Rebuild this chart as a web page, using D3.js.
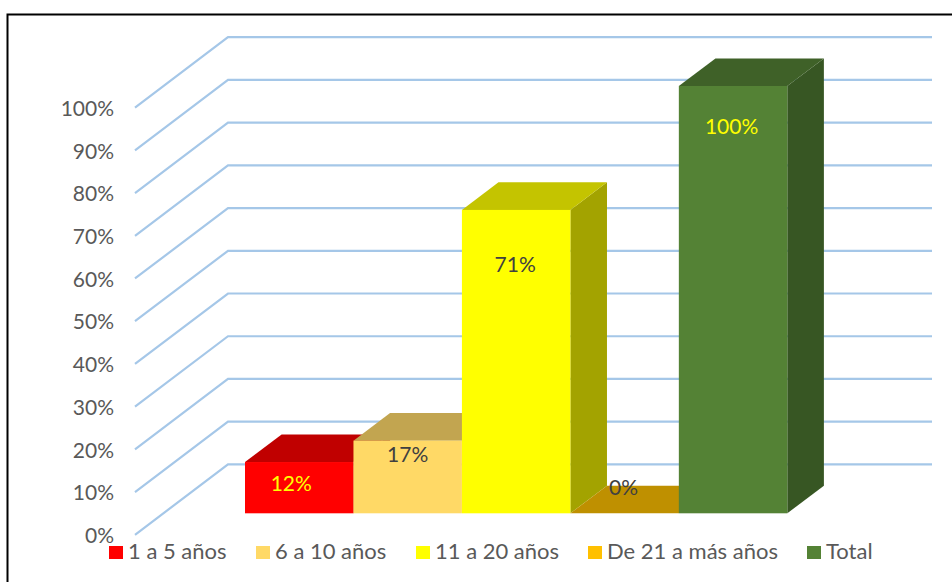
<!DOCTYPE html>
<html><head><meta charset="utf-8">
<script src="https://cdn.jsdelivr.net/npm/d3@7"></script>
<style>html,body{margin:0;padding:0;background:#fff}svg{display:block}text{font-family:Lato,"Open Sans",sans-serif}</style>
</head><body><svg id="c" width="952" height="582"></svg>
<script>
const categories = ["1 a 5 años","6 a 10 años","11 a 20 años","De 21 a más años","Total"];
const values = [0.12,0.17,0.71,0,1];
const valueLabels = ["12%","17%","71%","0%","100%"];
const tickValues = [0,0.1,0.2,0.3,0.4,0.5,0.6,0.7,0.8,0.9,1];

const frontColors = ["#ff0000","#ffd966","#ffff00","#ffc000","#548235"];
const topColors = ["#c00000","#c2a550","#c4c400","#bf9000","#3f6128"];
const sideColors = ["#a60000","#a68d42","#a3a300","#a67c00","#375623"];
const labelColors = ["#ffff00","#404040","#404040","#404040","#ffff00"];
const labelShift = [23.5,16.5,56.5,-24,42.5];
const labelShiftX = [-8,0,-1,-1,-1.5];
const legendX = [109,256,416,588,807];

const svg = d3.select("#c");
svg.append("path").attr("d","M7.5,582V14.5H952").attr("fill","none").attr("stroke","#000").attr("stroke-width",2);

const depthX = 36.6, depthY = -27.6, gridDx = 93, gridDy = -70.4;
const x = d3.scaleBand().domain(categories).range([245,787.3]).padding(0);
const y = d3.scaleLinear().domain([0,1]).range([513.3,86]);
const yLeft = d3.scaleLinear().domain([0,1]).range([534.8,107.6]);
const gridLeft = 135, gridRight = 932;

svg.append("g").selectAll("path").data(tickValues).join("path")
  .attr("d",d=>`M${gridLeft},${yLeft(d)}L${gridLeft+gridDx},${yLeft(d)+gridDy}H${gridRight}`)
  .attr("fill","none").attr("stroke","#a5c7e8").attr("stroke-width",2.2);

const axis = d3.axisLeft(yLeft).tickValues(tickValues).tickFormat(d3.format(".0%")).tickSize(0).tickPadding(0);
const gAxis = svg.append("g").attr("transform","translate(114,1)").call(axis);
gAxis.select(".domain").remove();
gAxis.selectAll("text").attr("font-size",21).attr("fill","#595959").attr("style","font-family:Lato,sans-serif");

const bars = svg.append("g").selectAll("g").data(categories).join("g");
bars.append("path").attr("fill",(d,i)=>sideColors[i]).attr("d",(d,i)=>{
  const r=x(d)+x.bandwidth(), t=y(values[i]), b=y(0);
  return `M${r},${t}l${depthX},${depthY}V${b+depthY}L${r},${b}Z`;
});
bars.append("path").attr("fill",(d,i)=>topColors[i]).attr("d",(d,i)=>{
  const l=x(d), t=y(values[i]), w=x.bandwidth();
  return `M${l},${t}l${depthX},${depthY}h${w}l${-depthX},${-depthY}Z`;
});
bars.append("rect").attr("fill",(d,i)=>frontColors[i])
  .attr("x",d=>x(d)).attr("width",x.bandwidth())
  .attr("y",(d,i)=>y(values[i])).attr("height",(d,i)=>y(0)-y(values[i]));
bars.append("text").text((d,i)=>valueLabels[i]).attr("text-anchor","middle")
  .attr("font-size",21).attr("dominant-baseline","middle").attr("fill",(d,i)=>labelColors[i])
  .attr("x",(d,i)=>x(d)+x.bandwidth()/2+labelShiftX[i])
  .attr("y",(d,i)=>y(values[i])+labelShift[i]);

const leg = svg.append("g").selectAll("g").data(categories).join("g")
  .attr("transform",(d,i)=>`translate(${legendX[i]},0)`);
leg.append("rect").attr("y",546).attr("width",14).attr("height",13).attr("fill",(d,i)=>frontColors[i]);
leg.append("text").text(d=>d).attr("x",19).attr("y",559).attr("font-size",22).attr("fill","#595959");
</script></body></html>
